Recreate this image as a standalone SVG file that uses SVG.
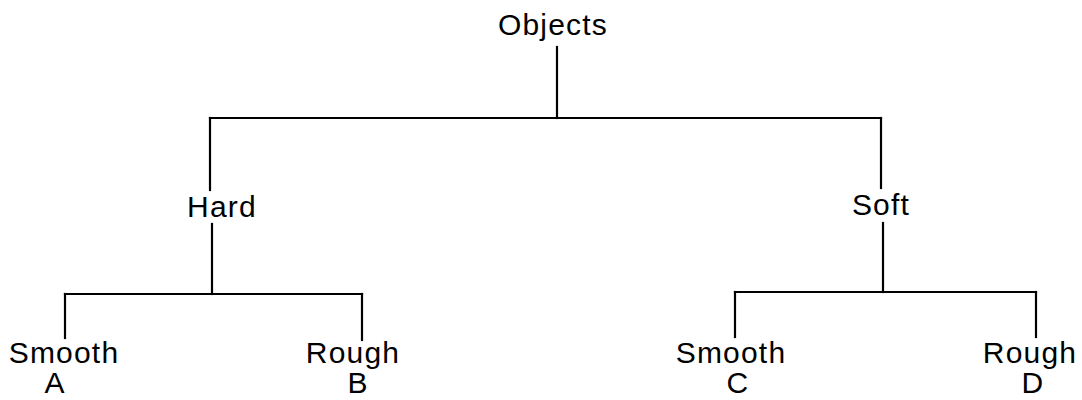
<svg xmlns="http://www.w3.org/2000/svg" width="1082" height="400" viewBox="0 0 1082 400">
<style>
text{font-family:"Liberation Sans",Arial,sans-serif;font-size:30px;fill:#000;text-anchor:middle;letter-spacing:1.2px}
.c line{stroke:#000;stroke-width:2.2;stroke-linecap:square}
</style>
<rect width="1082" height="400" fill="#fff"/>
<g class="c" id="connectors">
<line x1="557" y1="47" x2="557" y2="118"/>
<line x1="210" y1="118" x2="881" y2="118"/>
<line x1="210" y1="118" x2="210" y2="190"/>
<line x1="881" y1="118" x2="881" y2="188"/>
<line x1="212" y1="224" x2="212" y2="294"/>
<line x1="65" y1="294" x2="362" y2="294"/>
<line x1="65" y1="294" x2="65" y2="338"/>
<line x1="362" y1="294" x2="362" y2="340"/>
<line x1="883" y1="223" x2="883" y2="292"/>
<line x1="735" y1="292" x2="1036" y2="292"/>
<line x1="735" y1="292" x2="735" y2="337"/>
<line x1="1036" y1="292" x2="1036" y2="337"/>
</g>
<g id="objects"><text x="553" y="35">Objects</text></g>
<g id="hard"><text x="222" y="217">Hard</text></g>
<g id="soft"><text x="881" y="215">Soft</text></g>
<g id="smoothA"><text x="64" y="363">Smooth</text><text x="55" y="393">A</text></g>
<g id="roughB"><text x="353" y="363">Rough</text><text x="358" y="393">B</text></g>
<g id="smoothC"><text x="731" y="363">Smooth</text><text x="738" y="393">C</text></g>
<g id="roughD"><text x="1030" y="363">Rough</text><text x="1033" y="393">D</text></g>
</svg>
